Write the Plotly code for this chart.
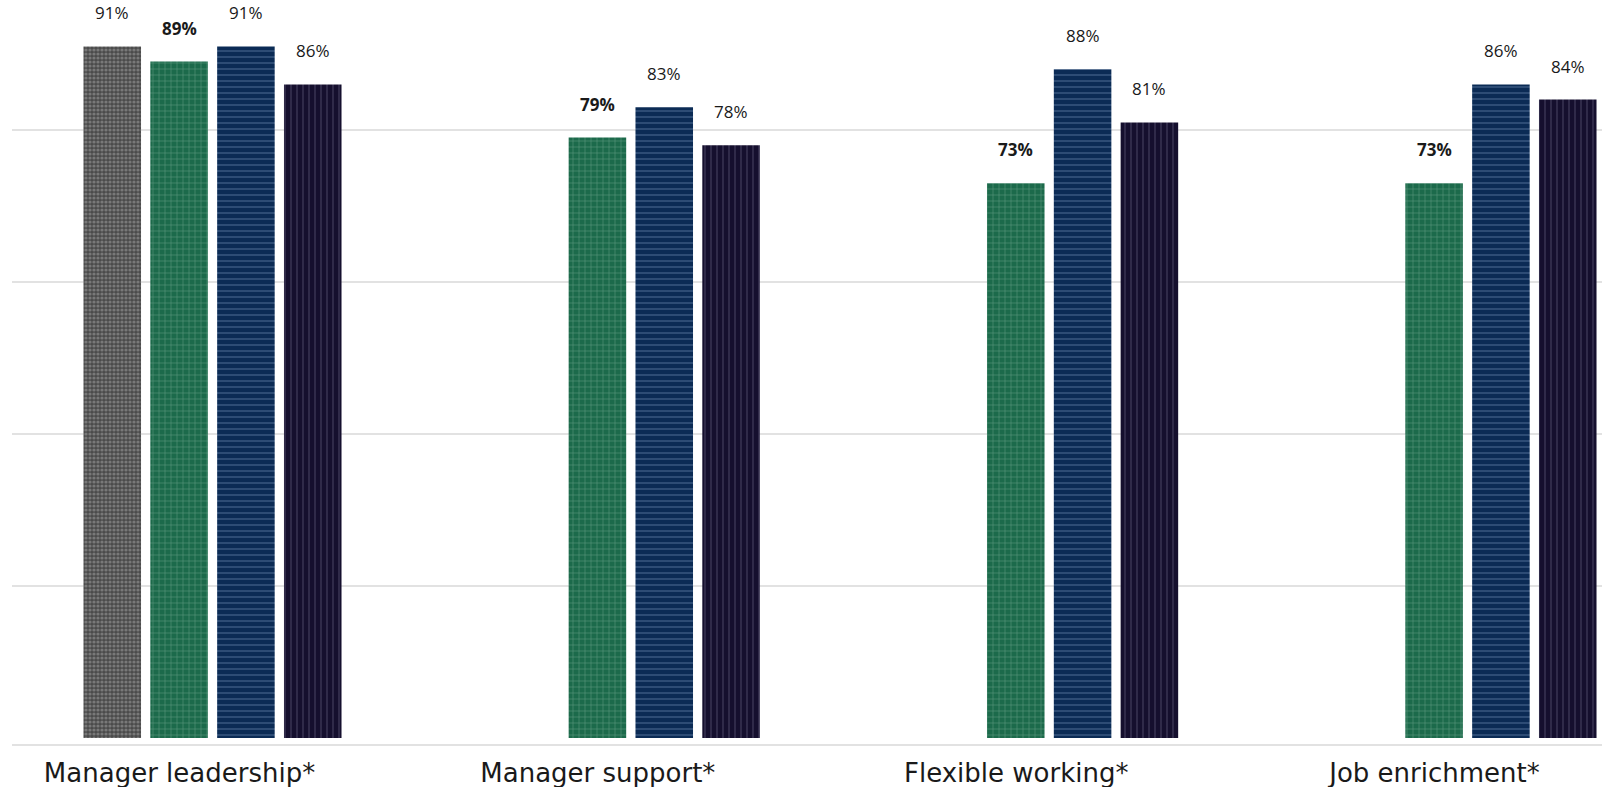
import plotly.graph_objects as go

categories = ["Manager leadership*", "Manager support*", "Flexible working*", "Job enrichment*"]
series_names = ["Comparator", "Your organisation", "Group A", "Group B"]
comparator = [91, None, None, None]
organisation = [89, 79, 73, 73]
group_a = [91, 83, 88, 86]
group_b = [86, 78, 81, 84]

values = [comparator, organisation, group_a, group_b]
bg_colors = ["#4a4a4a", "#1c6a4b", "#0b2b55", "#150f2e"]
fg_colors = ["#a8a8a8", "#9cc7b1", "#87a6cc", "#77718f"]
shapes = [".", "+", "-", "|"]
sizes = [4, 6, 6, 6]
solidities = [0.5, 0.18, 0.18, 0.18]
bold = [False, True, False, False]

VAL_FONT = "Open Sans"
TICK_FONT = "DejaVu Sans"
SLOT_PX = 66.8  # horizontal step between grouped bars, in pixels

fig = go.Figure()
for i in range(4):
    fig.add_trace(go.Bar(
        x=categories, y=values[i], name=series_names[i],
        marker=dict(color=bg_colors[i], line=dict(width=0),
                    pattern=dict(shape=shapes[i], fgcolor=fg_colors[i],
                                 size=sizes[i], solidity=solidities[i])),
        showlegend=False,
    ))
    for cat, v in zip(categories, values[i]):
        if v is None:
            continue
        txt = f"<b>{v}%</b>" if bold[i] else f"{v}%"
        fig.add_annotation(
            x=cat, y=v, xref="x", yref="y", text=txt, showarrow=False,
            yanchor="bottom", yshift=20, xshift=(i - 1.5) * SLOT_PX,
            font=dict(family=VAL_FONT, size=17, color="#1a1a1a"),
        )

fig.update_layout(
    width=1606, height=787,
    margin=dict(l=12, r=4, t=0, b=43),
    plot_bgcolor="white", paper_bgcolor="white",
    barmode="group", bargap=0.361, bargroupgap=0.139,
    font=dict(family=VAL_FONT, color="#1a1a1a"),
    xaxis=dict(range=[-0.4793, 3.3215], showline=True, linecolor="#e2e2e2",
               linewidth=2, ticks="", showgrid=False,
               tickfont=dict(family=TICK_FONT, size=26, color="#1a1a1a"),
               ticklabelshift=-33, ticklabelstandoff=5),
    yaxis=dict(range=[-0.789, 97.105], tickvals=[20, 40, 60, 80],
               showticklabels=False, gridcolor="#e2e2e2", gridwidth=1.5,
               zeroline=False, showline=False),
)
fig.write_html("out.html", config={"displayModeBar": False},
               post_script="document.body.style.margin='0';")
